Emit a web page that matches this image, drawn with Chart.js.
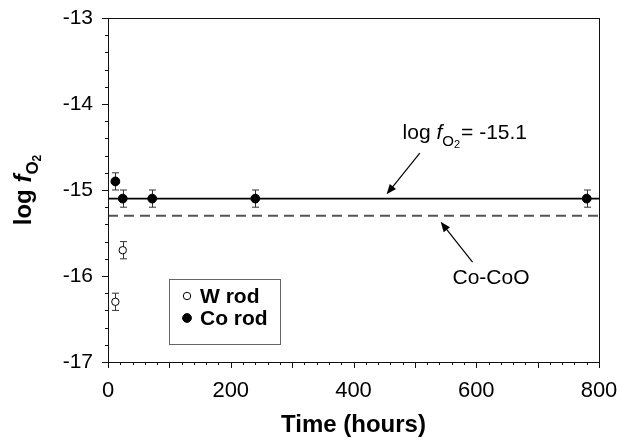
<!DOCTYPE html>
<html>
<head>
<meta charset="utf-8">
<script src="https://cdn.jsdelivr.net/npm/chart.js@4.4.1/dist/chart.umd.min.js"></script>
<style>
  html, body { margin: 0; padding: 0; background: #fff; }
  #wrap { width: 617px; height: 440px; }
</style>
</head>
<body>
<div id="wrap"><canvas id="fo2Chart"></canvas></div>
<script>
// measured oxygen fugacity vs time
const timeW = [12, 24];
const logW = [-16.3, -15.7];
const errW = [0.1, 0.1];

const timeCo = [12, 24, 72, 240, 780];
const logCo = [-14.9, -15.1, -15.1, -15.1, -15.1];
const errCo = [0.1, 0.1, 0.1, 0.1, 0.1];

const meanLevel = -15.1;   // solid line
const coCoO = -15.3;       // Co-CoO buffer, dashed
const lineSpan = [0, 800];

const xRange = [0, 800];
const yRange = [-17, -13];

// annotation anchors (data units)
const meanLabelAt = { x: 480, y: -14.41 };
const meanArrow = { from: { x: 508, y: -14.57 }, to: { x: 454, y: -15.05 } };
const bufferLabelAt = { x: 624, y: -16.03 };
const bufferArrow = { from: { x: 594, y: -15.84 }, to: { x: 542, y: -15.37 } };

const FONT = "'Liberation Sans', Arial, sans-serif";

function pts(xs, ys) {
  return xs.map((x, i) => ({ x: x, y: ys[i] }));
}

// error bars, drawn under the markers
const errorBars = {
  id: 'errorBars',
  beforeDatasetsDraw(chart) {
    const ctx = chart.ctx;
    const xs = chart.scales.x, ys = chart.scales.y;
    ctx.save();
    ctx.strokeStyle = '#333';
    ctx.lineWidth = 1;
    chart.data.datasets.forEach(ds => {
      if (!ds.err) return;
      ds.data.forEach((p, i) => {
        const px = Math.round(xs.getPixelForValue(p.x)) + 0.5;
        const top = ys.getPixelForValue(p.y + ds.err[i]);
        const bot = ys.getPixelForValue(p.y - ds.err[i]);
        ctx.beginPath();
        ctx.moveTo(px, top); ctx.lineTo(px, bot);
        ctx.moveTo(px - 3.5, top); ctx.lineTo(px + 3.5, top);
        ctx.moveTo(px - 3.5, bot); ctx.lineTo(px + 3.5, bot);
        ctx.stroke();
      });
    });
    ctx.restore();
  }
};

function drawArrow(ctx, x1, y1, x2, y2) {
  const ang = Math.atan2(y2 - y1, x2 - x1);
  const len = 10, half = 4;
  ctx.beginPath();
  ctx.moveTo(x1, y1);
  ctx.lineTo(x2 - Math.cos(ang) * len * 0.8, y2 - Math.sin(ang) * len * 0.8);
  ctx.stroke();
  ctx.beginPath();
  ctx.moveTo(x2, y2);
  ctx.lineTo(x2 - Math.cos(ang) * len + Math.sin(ang) * half, y2 - Math.sin(ang) * len - Math.cos(ang) * half);
  ctx.lineTo(x2 - Math.cos(ang) * len - Math.sin(ang) * half, y2 - Math.sin(ang) * len + Math.cos(ang) * half);
  ctx.closePath();
  ctx.fill();
}

// draws "log fO2" pieces left to right starting at x, baseline y
function logFO2(ctx, x, y, size, weight, measureOnly) {
  const parts = [
    { t: 'log ', f: weight + ' ' + size + 'px ' + FONT, dy: 0 },
    { t: 'f', f: 'italic ' + weight + ' ' + size + 'px ' + FONT, dy: 0 },
    { t: 'O', f: weight + ' ' + Math.round(size * 0.72) + 'px ' + FONT, dy: size * 0.3 },
    { t: '2', f: weight + ' ' + Math.round(size * 0.52) + 'px ' + FONT, dy: size * 0.42 }
  ];
  let cx = x;
  parts.forEach(p => {
    ctx.font = p.f;
    if (!measureOnly) ctx.fillText(p.t, cx, y + p.dy);
    cx += ctx.measureText(p.t).width;
  });
  return cx - x;
}

const decorations = {
  id: 'decorations',
  afterDraw(chart) {
    const ctx = chart.ctx;
    const a = chart.chartArea;
    const xs = chart.scales.x, ys = chart.scales.y;
    ctx.save();

    // frame
    ctx.strokeStyle = '#111';
    ctx.lineWidth = 1;
    ctx.strokeRect(Math.round(a.left) + 0.5, Math.round(a.top) + 0.5,
      Math.round(a.right - a.left), Math.round(a.bottom - a.top));

    // tick marks, pointing out
    ctx.beginPath();
    for (let v = xRange[0]; v <= xRange[1]; v += 20) {
      const px = Math.round(xs.getPixelForValue(v)) + 0.5;
      const len = v % 100 === 0 ? 6 : 3;
      ctx.moveTo(px, a.bottom); ctx.lineTo(px, a.bottom + len);
    }
    for (let k = 0; k <= 20; k++) {
      const v = yRange[0] + k * 0.2;
      const py = Math.round(ys.getPixelForValue(v)) + 0.5;
      const len = k % 5 === 0 ? 6 : 3;
      ctx.moveTo(a.left, py); ctx.lineTo(a.left - len, py);
    }
    ctx.stroke();

    // y axis title with subscript
    ctx.fillStyle = '#000';
    ctx.textBaseline = 'alphabetic';
    ctx.textAlign = 'left';
    ctx.save();
    ctx.translate(31, (a.top + a.bottom) / 2);
    ctx.rotate(-Math.PI / 2);
    const w = logFO2(ctx, 0, 0, 24, 'bold', true);
    logFO2(ctx, -w / 2, 0, 24, 'bold', false);
    ctx.restore();

    // annotations
    ctx.strokeStyle = '#000';
    ctx.fillStyle = '#000';
    ctx.lineWidth = 1.2;
    const lx = xs.getPixelForValue(meanLabelAt.x), ly = ys.getPixelForValue(meanLabelAt.y);
    const lw = logFO2(ctx, lx, ly, 21, 'normal', false);
    ctx.font = '21px ' + FONT;
    ctx.fillText('= -15.1', lx + lw + 1, ly);
    drawArrow(ctx, xs.getPixelForValue(meanArrow.from.x), ys.getPixelForValue(meanArrow.from.y),
      xs.getPixelForValue(meanArrow.to.x), ys.getPixelForValue(meanArrow.to.y));

    ctx.font = '21px ' + FONT;
    ctx.textAlign = 'center';
    ctx.textBaseline = 'middle';
    ctx.fillText('Co-CoO', xs.getPixelForValue(bufferLabelAt.x), ys.getPixelForValue(bufferLabelAt.y));
    drawArrow(ctx, xs.getPixelForValue(bufferArrow.from.x), ys.getPixelForValue(bufferArrow.from.y),
      xs.getPixelForValue(bufferArrow.to.x), ys.getPixelForValue(bufferArrow.to.y));

    // legend box
    const bx = a.left + 61, by = a.top + 261, bw = 111, bh = 65;
    ctx.strokeStyle = '#666';
    ctx.lineWidth = 1;
    ctx.strokeRect(Math.round(bx) + 0.5, Math.round(by) + 0.5, bw, bh);
    const entries = chart.data.datasets.filter(d => d.err);
    entries.forEach((ds, i) => {
      const cy = by + 17 + i * 22;
      ctx.beginPath();
      ctx.arc(bx + 18, cy, ds.pointRadius, 0, Math.PI * 2);
      ctx.fillStyle = ds.backgroundColor;
      ctx.fill();
      ctx.strokeStyle = ds.borderColor;
      ctx.stroke();
      ctx.fillStyle = '#000';
      ctx.font = 'bold 21px ' + FONT;
      ctx.textAlign = 'left';
      ctx.textBaseline = 'middle';
      ctx.fillText(ds.label, bx + 31, cy + 1);
    });

    ctx.restore();
  }
};

new Chart(document.getElementById('fo2Chart'), {
  type: 'scatter',
  data: {
    datasets: [
      {
        type: 'line',
        label: 'mean',
        data: pts(lineSpan, [meanLevel, meanLevel]),
        borderColor: '#000',
        borderWidth: 1.6,
        pointRadius: 0
      },
      {
        type: 'line',
        label: 'Co-CoO',
        data: pts(lineSpan, [coCoO, coCoO]),
        borderColor: '#555',
        borderWidth: 2,
        borderDash: [10, 6],
        pointRadius: 0
      },
      {
        label: 'W rod',
        data: pts(timeW, logW),
        err: errW,
        pointRadius: 3.7,
        backgroundColor: '#fff',
        borderColor: '#000',
        borderWidth: 1
      },
      {
        label: 'Co rod',
        data: pts(timeCo, logCo),
        err: errCo,
        pointRadius: 4.4,
        backgroundColor: '#000',
        borderColor: '#000',
        borderWidth: 1
      }
    ]
  },
  options: {
    responsive: true,
    maintainAspectRatio: false,
    animation: false,
    layout: { padding: { top: 18, right: 18, left: 0, bottom: 0 } },
    plugins: {
      legend: { display: false },
      tooltip: { enabled: false }
    },
    scales: {
      x: {
        type: 'linear',
        min: xRange[0],
        max: xRange[1],
        grid: { display: false, drawTicks: false },
        border: { display: false },
        ticks: {
          stepSize: 200,
          padding: 16,
          color: '#000',
          maxRotation: 0,
          font: { family: FONT, size: 22 }
        },
        title: {
          display: true,
          text: 'Time (hours)',
          color: '#000',
          padding: { top: 0, bottom: 0 },
          font: { family: FONT, size: 24, weight: 'bold' }
        },
        afterFit(scale) {
          scale.height = 78;
          scale.paddingLeft = 0; scale.paddingRight = 0;
        }
      },
      y: {
        type: 'linear',
        min: yRange[0],
        max: yRange[1],
        grid: { display: false, drawTicks: false },
        border: { display: false },
        ticks: {
          stepSize: 1,
          padding: 15,
          color: '#000',
          font: { family: FONT, size: 21 }
        },
        afterFit(scale) {
          scale.width = 108;
          scale.paddingTop = 0; scale.paddingBottom = 0;
        }
      }
    }
  },
  plugins: [errorBars, decorations]
});
</script>
</body>
</html>
